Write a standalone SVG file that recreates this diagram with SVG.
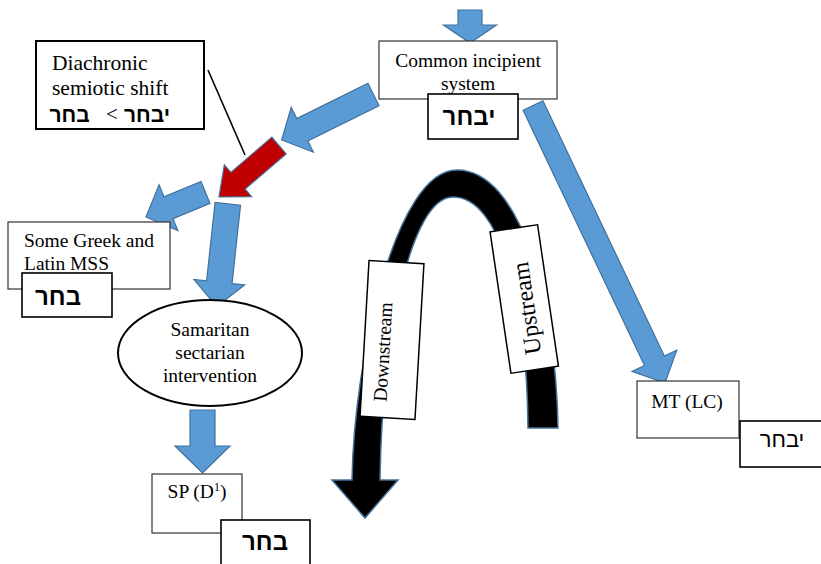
<svg xmlns="http://www.w3.org/2000/svg" width="821" height="564" viewBox="0 0 821 564">
<style>
.box{fill:#fff;stroke:#333;stroke-width:1.2}
.hbox{fill:#fff;stroke:#000;stroke-width:1.6}
.t{font-family:"Liberation Serif","Times New Roman",serif;font-size:19.5px;fill:#000}
.h{font-family:"Liberation Sans",Arial,sans-serif;font-size:24px;font-weight:bold;fill:#000}
.blue{fill:#5B9BD5;stroke:#41719C;stroke-width:1.2}
.red{fill:#C00000;stroke:#41719C;stroke-width:1.2}
.lbl{fill:#fff;stroke:#000;stroke-width:1.5}
</style>
<g id="connectors">
<polygon class="blue" points="458,10 458,25 443.5,25 470,43 496.5,25 482,25 482,10"/>
<polygon class="blue" points="367.95,83.3 296.75,118.6 291.2,107.4 281.7,140 313.4,152.2 307.85,141 379.05,105.7"/>
<polygon class="red" points="271.84,137.15 230.82,172.37 224.31,164.78 219,197 251.65,196.66 245.14,189.07 286.16,153.85"/>
<polygon class="blue" points="201,181.58 163.98,196.82 159.07,184.89 146,217 177.89,230.59 172.98,218.66 210,203.42"/>
<polygon class="blue" points="215.08,202.43 206.61,280.88 193.98,279.52 216.7,306.7 244.68,284.98 232.05,283.62 240.52,205.17"/>
<polygon class="blue" points="190,410 190,446 175,446 202.5,473 230,446 215,446 215,410"/>
<polygon class="blue" points="523.07,110.23 644.5,365.52 632.04,371.44 665,383 676.82,350.14 664.36,356.06 542.93,100.77"/>
<line x1="208" y1="70" x2="245" y2="155" stroke="#000" stroke-width="1.6"/>
<path d="M558,428 L528,428 C527,300 500,197 453,197 C410,197 382,340 380,480 L398,480 L365,518 L332,480 L352,480 C354,360 395,170 457,170 C520,170 556,300 558,428 Z" fill="#000" stroke="#41719C" stroke-width="1.5"/>
</g>
<g id="downstream" transform="translate(392,340) rotate(3.3)">
<rect class="lbl" x="-27.5" y="-78" width="55" height="156"/>
<text class="t" transform="translate(-1.9,12.5) rotate(-90)" text-anchor="middle">Downstream</text>
</g>
<g id="upstream" transform="translate(524.25,299) rotate(-8.4)">
<rect class="lbl" x="-24" y="-71.5" width="48" height="143"/>
<text class="t" style="font-size:24px" transform="translate(9,9.5) rotate(-90)" text-anchor="middle">Upstream</text>
</g>
<g id="diachronic">
<rect x="36" y="41" width="168" height="88" fill="#fff" stroke="#000" stroke-width="2"/>
<text class="t" style="font-size:21.5px" x="52" y="70">Diachronic</text>
<text class="t" style="font-size:21.5px" x="52" y="95">semiotic shift</text>
<text class="h" style="font-size:21px" x="69.5" y="122" text-anchor="middle">בחר</text>
<text class="t" style="font-size:21px" x="112" y="121" text-anchor="middle">&lt;</text>
<text class="h" style="font-size:21px" x="147" y="122" text-anchor="middle">יבחר</text>
</g>
<g id="common">
<rect class="box" x="379" y="41" width="178" height="58"/>
<text class="t" x="468" y="67" text-anchor="middle">Common incipient</text>
<text class="t" x="468" y="90" text-anchor="middle">system</text>
</g>
<g id="common-heb">
<rect class="hbox" x="428" y="94" width="90" height="45"/>
<text class="h" x="469" y="125" text-anchor="middle">יבחר</text>
</g>
<g id="greek">
<rect class="box" x="8" y="222" width="162" height="67"/>
<text class="t" x="24" y="247">Some Greek and</text>
<text class="t" x="24" y="270">Latin MSS</text>
</g>
<g id="greek-heb">
<rect class="hbox" x="22" y="273" width="90" height="44"/>
<text class="h" x="58" y="305" text-anchor="middle">בחר</text>
</g>
<g id="samaritan">
<ellipse cx="210" cy="353" rx="92" ry="53" fill="#fff" stroke="#000" stroke-width="2"/>
<text class="t" x="210" y="336" text-anchor="middle">Samaritan</text>
<text class="t" x="210" y="359" text-anchor="middle">sectarian</text>
<text class="t" x="210" y="382" text-anchor="middle">intervention</text>
</g>
<g id="sp">
<rect class="box" x="152" y="474" width="90" height="59"/>
<text class="t" x="197" y="498" text-anchor="middle">SP (D<tspan font-size="12" dy="-7">1</tspan><tspan dy="7">)</tspan></text>
</g>
<g id="sp-heb">
<rect class="hbox" x="221" y="520" width="89" height="50"/>
<text class="h" x="265" y="550" text-anchor="middle">בחר</text>
</g>
<g id="mt">
<rect class="box" x="637" y="381" width="102" height="57"/>
<text class="t" x="687" y="408" text-anchor="middle">MT (LC)</text>
</g>
<g id="mt-heb">
<rect class="hbox" x="740" y="421" width="90" height="46"/>
<text class="h" style="font-weight:normal;font-size:22px" x="782" y="447" text-anchor="middle">יבחר</text>
</g>
</svg>
